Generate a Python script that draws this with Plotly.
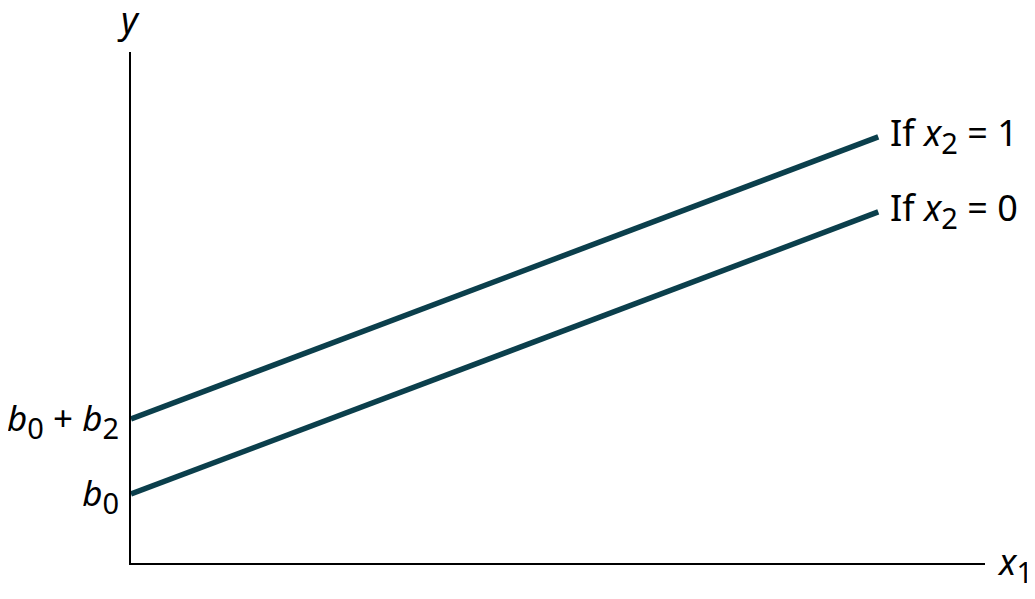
import plotly.graph_objects as go

# end points of the two regression lines (x1 from 0 to end)
x1_vals = [0, 8.75]
y_if_x2_0 = [1.35, 6.87]
y_if_x2_1 = [2.82, 8.34]


def sub(s):
    return f"<sub><span style='font-size:29px'>{s}</span></sub>"


line_labels = [f"If <i>x</i>{sub('2')} = 0", f"If <i>x</i>{sub('2')} = 1"]
y_tick_text = [f"<i>b</i>{sub('0')}", f"<i>b</i>{sub('0')} + <i>b</i>{sub('2')}"]

line_color = "#0b3f4c"
font = dict(family="Noto Sans", size=36, color="black")

fig = go.Figure()
for ys, label in zip([y_if_x2_0, y_if_x2_1], line_labels):
    fig.add_trace(go.Scatter(
        x=x1_vals,
        y=ys,
        mode="lines",
        line=dict(color=line_color, width=5.5),
        hoverinfo="skip",
    ))
    fig.add_annotation(
        x=x1_vals[-1], y=ys[-1], text=label, showarrow=False,
        xanchor="left", yanchor="middle", xshift=10, yshift=2, font=font,
    )

fig.add_annotation(
    xref="paper", yref="paper", x=0, y=1, text="<i>y</i>", showarrow=False,
    xanchor="center", yanchor="middle", xshift=-3, yshift=33, font=font,
)
fig.add_annotation(
    xref="paper", yref="paper", x=1, y=0, text=f"<i>x</i>{sub('1')}", showarrow=False,
    xanchor="left", yanchor="middle", xshift=10, yshift=-1, font=font,
)

fig.update_xaxes(
    range=[0, 10], showgrid=False, zeroline=False, showline=True,
    linecolor="black", linewidth=2, showticklabels=False, ticks="",
)
fig.update_yaxes(
    range=[0, 10], showgrid=False, zeroline=False, showline=True,
    linecolor="black", linewidth=2, automargin=False,
    tickmode="array", tickvals=[y_if_x2_0[0], y_if_x2_1[0]], ticktext=y_tick_text,
    ticks="outside", ticklen=3, tickcolor="rgba(0,0,0,0)",
    tickfont=dict(family="Noto Sans", size=35, color="black"),
)
fig.update_layout(
    width=1027, height=591, showlegend=False,
    plot_bgcolor="white", paper_bgcolor="white",
    margin=dict(l=123, r=50, t=44, b=36, autoexpand=False),
    font=font,
)
fig.write_html("out.html")
